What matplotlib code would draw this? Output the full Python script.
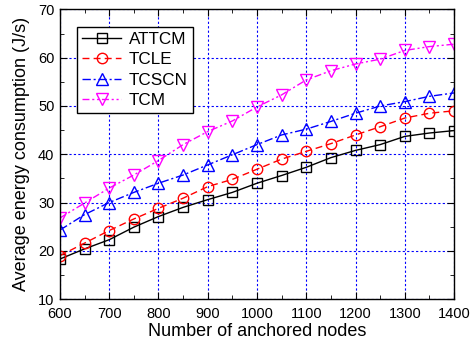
import matplotlib
matplotlib.use("Agg")
import matplotlib.pyplot as plt
from matplotlib.ticker import MultipleLocator

plt.rcParams['font.family'] = ['Liberation Sans', 'DejaVu Sans']

nodes = [600, 650, 700, 750, 800, 850, 900, 950, 1000, 1050, 1100, 1150, 1200, 1250, 1300, 1350, 1400]
attcm = [18.3, 20.4, 22.3, 24.9, 27.1, 29.0, 30.6, 32.1, 34.0, 35.6, 37.3, 39.3, 40.8, 42.0, 43.7, 44.4, 44.9]
tcle  = [19.0, 21.6, 24.2, 26.6, 28.8, 30.9, 33.3, 34.8, 36.9, 39.0, 40.6, 42.2, 44.0, 45.7, 47.5, 48.5, 49.0]
tcscn = [24.3, 27.5, 30.0, 32.1, 34.0, 35.7, 37.8, 39.9, 42.0, 44.0, 45.2, 46.8, 48.5, 50.0, 50.9, 52.0, 52.7]
tcm   = [26.8, 29.9, 33.0, 35.7, 38.7, 42.0, 44.7, 46.9, 49.8, 52.3, 55.4, 57.3, 58.7, 59.7, 61.5, 62.3, 62.8]

fig = plt.figure(figsize=(4.72, 3.49), dpi=100)
ax = fig.add_axes([0.127, 0.143, 0.835, 0.830])

ms = 7.5
ax.plot(nodes, attcm, color='black', linestyle='-', lw=1.0, marker='s', mfc='none', mec='black', ms=ms, label='ATTCM')
ax.plot(nodes, tcle, color='red', linestyle=(0, (5, 3)), lw=1.0, marker='o', mfc='none', mec='red', ms=ms, label='TCLE')
ax.plot(nodes, tcscn, color='blue', linestyle=(0, (6, 2, 1.5, 2)), lw=1.0, marker='^', mfc='none', mec='blue', ms=ms+0.5, label='TCSCN')
ax.plot(nodes, tcm, color='magenta', linestyle=(0, (5, 2, 1.5, 2, 1.5, 2)), lw=1.0, marker='v', mfc='none', mec='magenta', ms=ms+0.5, label='TCM')

ax.set_xlim(600, 1400)
ax.set_ylim(10, 70)
ax.xaxis.set_major_locator(MultipleLocator(100))
ax.xaxis.set_minor_locator(MultipleLocator(50))
ax.yaxis.set_major_locator(MultipleLocator(10))
ax.yaxis.set_minor_locator(MultipleLocator(5))
ax.tick_params(which='both', direction='in', top=True, right=True, labelsize=10.5)
ax.tick_params(axis='x', which='major', pad=6)
ax.tick_params(axis='y', which='major', pad=4)
ax.tick_params(which='major', length=5)
ax.tick_params(which='minor', length=3)
ax.grid(True, which='major', color='blue', linestyle=(0, (2, 2)), lw=0.8)
ax.set_axisbelow(True)
for s in ax.spines.values():
    s.set_linewidth(1.0)

ax.set_xlabel('Number of anchored nodes', fontsize=13, labelpad=1)
ax.set_ylabel('Average energy consumption (J/s)', fontsize=13, labelpad=6)

leg = ax.legend(loc='upper left', bbox_to_anchor=(0.043, 0.94), fontsize=12.3, frameon=True,
                fancybox=False, edgecolor='black', framealpha=1, handlelength=2.3,
                borderpad=0.3, labelspacing=0.32, handletextpad=0.45, borderaxespad=0)
leg.get_frame().set_linewidth(1.0)

fig.savefig('out.png', dpi=100)
